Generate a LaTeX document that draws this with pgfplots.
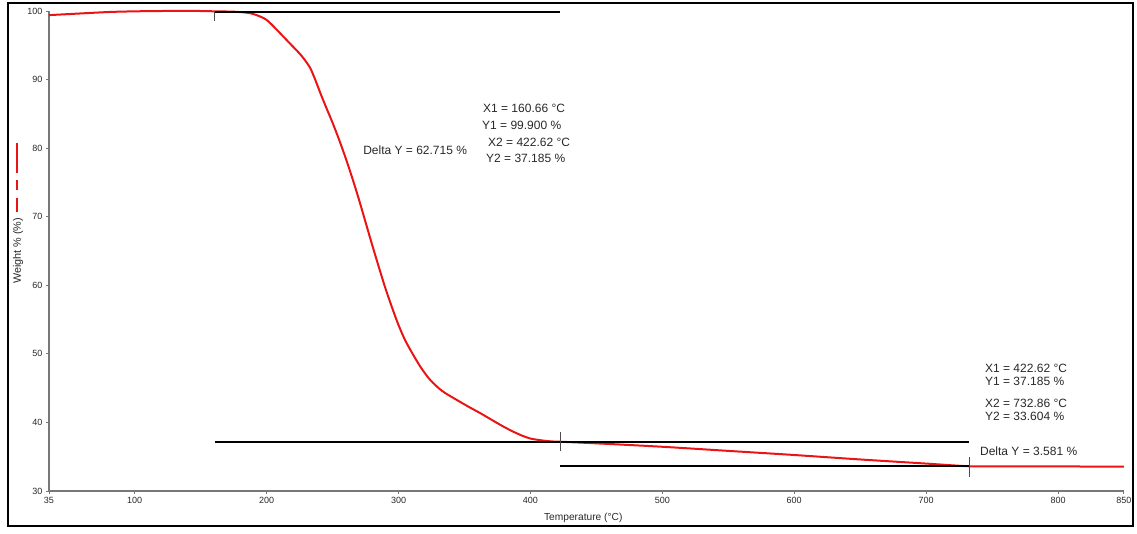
\documentclass[border=0pt]{standalone}
\usepackage{pgfplots}
\pgfplotsset{compat=1.18}
\usepackage{fontspec}
\setmainfont{Liberation Sans}

\definecolor{tgared}{RGB}{235,20,20}
\definecolor{axisgray}{RGB}{120,120,120}
\definecolor{txt}{RGB}{40,40,40}

% TGA weight loss curve
\pgfplotstableread{
T      W
35     99.40
50     99.55
80     99.85
100    99.95
120    100.00
150    100.00
160.66 99.95
175    99.90
187    99.70
195    99.20
200    98.70
206    97.60
212.5  96.30
219    95.00
224    94.00
228    93.10
233    91.70
237    89.90
241    87.90
245    86.00
250    83.70
255    81.20
260    78.50
265    75.60
270    72.50
275    69.20
280    65.90
285    62.70
290    59.60
295    56.80
300    54.20
305    52.00
311    49.90
317    48.00
324    46.20
333    44.60
344    43.30
353    42.30
362    41.35
370    40.45
379    39.45
387    38.65
394    38.05
400    37.65
406    37.45
412    37.30
417    37.22
422.62 37.185
450    36.95
500    36.45
550    35.85
600    35.25
650    34.60
700    34.00
732.86 33.604
760    33.60
800    33.58
850    33.56
}\tga

\begin{document}
\begin{tikzpicture}[x=1pt,y=1pt]
\useasboundingbox (0,0) rectangle (1137,533);
\draw[black, line width=2pt] (8,7) rectangle (1133,530);

\begin{axis}[
  at={(49pt,42pt)}, anchor=south west,
  scale only axis, width=1075pt, height=480pt,
  xmin=35, xmax=850, ymin=30, ymax=100,
  xtick={35,100,200,300,400,500,600,700,800,850},
  ytick={30,40,50,60,70,80,90,100},
  axis x line=bottom, axis y line=left,
  axis line style={-, axisgray, line width=1.2pt},
  every outer x axis line/.append style={-},
  every outer y axis line/.append style={-},
  tick align=outside, major tick length=3pt,
  tick style={axisgray, line width=1pt},
  /pgf/number format/assume math mode=true,
  /pgf/number format/1000 sep={},
  ticklabel style={font=\fontsize{9}{10}\selectfont, text=txt},
  xlabel={Temperature (°C)},
  ylabel={Weight \% (\%)},
  xlabel style={font=\fontsize{10.2}{11}\selectfont, text=txt,
    at={(axis description cs:0.497,-0.056)}, anchor=center},
  ylabel style={font=\fontsize{10.8}{12}\selectfont, text=txt,
    at={(axis description cs:-0.0288,0.5)}, anchor=center},
  clip=false,
]
\addplot[tgared, line width=2pt, smooth, tension=0.5, line join=round] table[x=T, y=W] {\tga};

% step markers
\addplot[black, line width=2pt] coordinates {(160.66,99.9) (422.62,99.9)};
\addplot[black, line width=2pt] coordinates {(160.66,37.185) (732.86,37.185)};
\addplot[black, line width=2pt] coordinates {(422.62,33.604) (732.86,33.604)};
\addplot[black!70, line width=1.4pt] coordinates {(160.66,99.9) (160.66,98.6)};
\addplot[black!70, line width=1.4pt] coordinates {(422.62,38.6) (422.62,35.8)};
\addplot[black!70, line width=1.4pt] coordinates {(732.86,35.0) (732.86,32.1)};

% step annotations
\begin{scope}[every node/.style={font=\fontsize{12}{14}\selectfont, text=txt, anchor=west, inner sep=0pt}]
\node at (axis cs:364.0,85.85) {X1 = 160.66 °C};
\node at (axis cs:363.3,83.37) {Y1 = 99.900 \%};
\node at (axis cs:367.8,80.90) {X2 = 422.62 °C};
\node at (axis cs:366.3,78.55) {Y2 = 37.185 \%};
\node at (axis cs:273.1,79.73) {Delta Y = 62.715 \%};
\node at (axis cs:744.6,47.89) {X1 = 422.62 °C};
\node at (axis cs:744.6,45.94) {Y1 = 37.185 \%};
\node at (axis cs:744.6,42.79) {X2 = 732.86 °C};
\node at (axis cs:744.6,40.83) {Y2 = 33.604 \%};
\node at (axis cs:740.8,35.73) {Delta Y = 3.581 \%};
\end{scope}
\end{axis}

% series key
\draw[tgared, line width=2pt] (17,390) -- (17,360);
\draw[tgared, line width=2pt] (17,353) -- (17,343);
\draw[tgared, line width=2pt] (17,335) -- (17,321);
\end{tikzpicture}
\end{document}
